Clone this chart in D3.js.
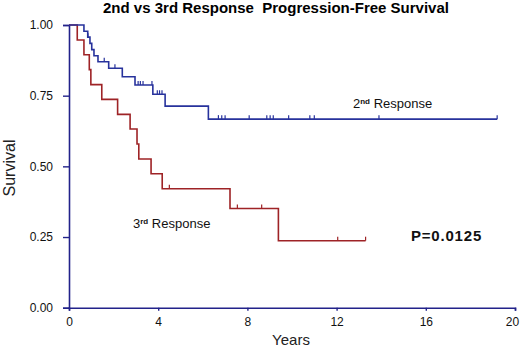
<!DOCTYPE html>
<html>
<head>
<meta charset="utf-8">
<script src="https://cdn.jsdelivr.net/npm/d3@7"></script>
<style>
  body { margin: 0; background: #fff; }
  svg { display: block; font-family: "Liberation Sans", Arial, sans-serif; }
</style>
</head>
<body>
<div id="chart"></div>
<script>
// DATA
const xTicks = [0, 4, 8, 12, 16, 20]
const yTicks = [0, 0.25, 0.5, 0.75, 1]

// 2nd response: time of each step and survival after it
const blueTimes = [0, 0.67, 0.84, 0.94, 1.02, 1.12, 1.30, 1.78, 2.39, 2.96, 3.76, 4.31, 6.25, 19.2]
const blueSurv = [1.0, 0.978, 0.957, 0.935, 0.913, 0.891, 0.870, 0.847, 0.817, 0.788, 0.755, 0.713, 0.667, 0.667]
const blueCensor = [0.85, 1.58, 2.06, 3.1, 3.2, 3.32, 3.72, 3.96, 4.06, 4.17,
  6.7, 6.85, 7.0, 8.08, 8.87, 9.02, 9.16, 9.85, 10.8, 11.0, 13.9, 19.2]

// 3rd response
const redTimes = [0, 0.37, 0.67, 0.91, 0.98, 1.47, 2.18, 2.74, 3.05, 3.13, 3.68, 4.18, 7.22, 9.39, 13.3]
const redSurv = [1.0, 0.947, 0.895, 0.842, 0.789, 0.737, 0.684, 0.632, 0.579, 0.526, 0.474, 0.421, 0.351, 0.237, 0.237]
const redCensor = [4.5, 7.55, 8.64, 12.05, 13.3]

const axisColor = "#22228a"
const blueColor = "#27329c"
const redColor = "#9e2326"

// DIMENSIONS
const width = 520
const height = 348
const margin = { top: 25, right: 5, bottom: 40.3, left: 69 }

const svg = d3.select("#chart")
  .append("svg")
  .attr("width", width)
  .attr("height", height)

const xScale = d3.scaleLinear()
  .domain([0, 20])
  .range([margin.left, width - margin.right])

const yScale = d3.scaleLinear()
  .domain([0, 1])
  .range([height - margin.bottom, margin.top])

// title
svg.append("text")
  .attr("x", 276)
  .attr("y", 13)
  .attr("text-anchor", "middle")
  .style("font-size", "15px")
  .style("font-weight", "bold")
  .style("white-space", "pre")
  .text("2nd vs 3rd Response  Progression-Free Survival")

// axes
const yAxis = svg.append("g")
  .attr("transform", `translate(${margin.left},0)`)
  .call(d3.axisLeft(yScale).tickValues(yTicks).tickFormat(d3.format(".2f")).tickSize(6).tickPadding(10))
const xAxis = svg.append("g")
  .attr("transform", `translate(0,${height - margin.bottom})`)
  .call(d3.axisBottom(xScale).tickValues(xTicks).tickSize(3).tickPadding(7))

for (const ax of [xAxis, yAxis]) {
  ax.select(".domain").attr("stroke", axisColor).attr("stroke-width", 1.6)
  ax.selectAll(".tick line").attr("stroke", axisColor).attr("stroke-width", 1.4)
  ax.selectAll(".tick text")
    .attr("fill", "#111")
    .style("font-size", "12px")
    .style("font-family", "'Liberation Sans', Arial, sans-serif")
}
// last x label sits at the window edge, nudge it in
xAxis.selectAll(".tick text").filter((d) => d === 20).attr("dx", -3)

// axis titles
svg.append("text")
  .attr("transform", "translate(15,168) rotate(-90)")
  .attr("text-anchor", "middle")
  .style("font-size", "16px")
  .attr("fill", "#222")
  .text("Survival")

svg.append("text")
  .attr("x", 291)
  .attr("y", 345)
  .attr("text-anchor", "middle")
  .style("font-size", "15px")
  .attr("fill", "#222")
  .text("Years")

// curves
const line = d3.line()
  .x((d) => xScale(d[0]))
  .y((d) => yScale(d[1]))
  .curve(d3.curveStepAfter)

const survAt = (times, surv, t) => {
  let s = surv[0]
  times.forEach((tt, i) => { if (tt <= t) s = surv[i] })
  return s
}

const drawCurve = (times, surv, censor, color) => {
  svg.append("path")
    .datum(times.map((t, i) => [t, surv[i]]))
    .attr("fill", "none")
    .attr("stroke", color)
    .attr("stroke-width", 1.6)
    .attr("d", line)

  svg.selectAll(null)
    .data(censor)
    .enter()
    .append("line")
    .attr("x1", (d) => xScale(d))
    .attr("x2", (d) => xScale(d))
    .attr("y1", (d) => yScale(survAt(times, surv, d)))
    .attr("y2", (d) => yScale(survAt(times, surv, d)) - 4)
    .attr("stroke", color)
    .attr("stroke-width", 1.2)
}

drawCurve(redTimes, redSurv, redCensor, redColor)
drawCurve(blueTimes, blueSurv, blueCensor, blueColor)

// labels
const label2 = svg.append("text")
  .attr("x", 353)
  .attr("y", 108)
  .style("font-size", "13px")
  .attr("fill", "#111")
label2.append("tspan").text("2")
label2.append("tspan").attr("dy", -4).style("font-size", "8px").style("font-weight", "bold").text("nd")
label2.append("tspan").attr("dy", 4).text(" Response")

const label3 = svg.append("text")
  .attr("x", 133)
  .attr("y", 228)
  .style("font-size", "13px")
  .attr("fill", "#111")
label3.append("tspan").text("3")
label3.append("tspan").attr("dy", -4).style("font-size", "8px").style("font-weight", "bold").text("rd")
label3.append("tspan").attr("dy", 4).text(" Response")

svg.append("text")
  .attr("x", 411)
  .attr("y", 241)
  .style("font-size", "15px")
  .style("font-weight", "bold")
  .style("letter-spacing", "0.8px")
  .attr("fill", "#111")
  .text("P=0.0125")
</script>
</body>
</html>
